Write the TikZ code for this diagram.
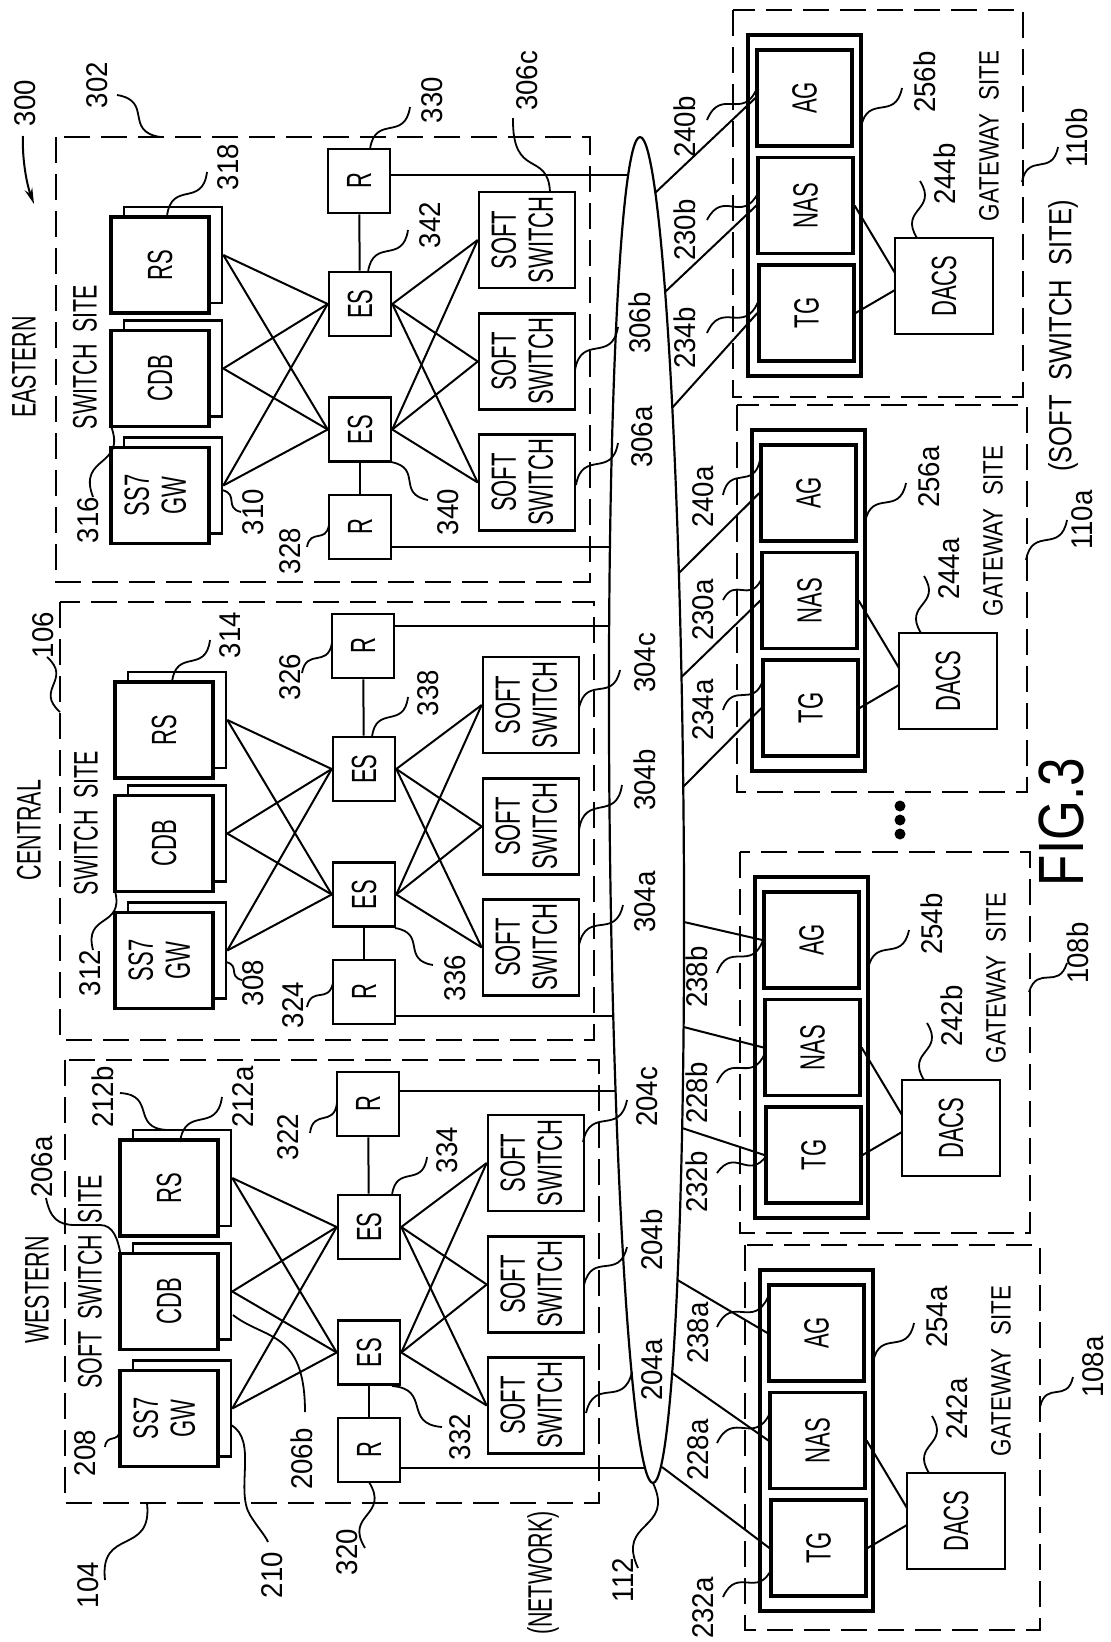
\documentclass[tikz,border=0pt]{standalone}
\usepackage{graphicx}
\usepackage{fontspec}
\setmainfont{Liberation Sans}[FakeStretch=0.92]
\newfontfamily\condA{Liberation Sans}[FakeStretch=0.63]
\newfontfamily\condB{Liberation Sans}[FakeStretch=0.8]
\usetikzlibrary{calc,arrows.meta}
\newcommand\rt[1]{\rotatebox{90}{#1}}
\newcommand\twol[2]{\begin{tabular}{@{}c@{}}#1\\#2\end{tabular}}
\tikzset{
  conn/.style={line width=2pt},
  ldr/.style={line width=1.8pt},
  bx/.style={draw, line width=2.6pt, fill=white, inner sep=0pt,
     font=\condA\fontsize{35}{37}\selectfont},
  fb/.style={bx, line width=3.4pt, minimum width=98pt, minimum height=96pt},
  bb/.style={draw, line width=2.6pt, fill=white, minimum width=98pt, minimum height=96pt},
  rbox/.style={bx, minimum width=62pt, minimum height=64pt},
  sbox/.style={bx, minimum width=96pt, minimum height=96pt},
  gbx/.style={bx, line width=3.2pt, minimum width=95pt, minimum height=96pt},
  dbox/.style={bx, minimum width=98pt, minimum height=96pt},
  obox/.style={draw, line width=3.2pt, minimum width=113pt, minimum height=341pt},
  sitebox/.style={line width=2.6pt, dash pattern=on 26pt off 11pt},
  lbl/.style={rotate=90, inner sep=0pt, font=\fontsize{30}{32}\selectfont},
  ttlA/.style={rotate=90, inner sep=0pt, font=\condA\fontsize{34}{36}\selectfont},
  ttlB/.style={rotate=90, inner sep=0pt, font=\condB\fontsize{28}{30}\selectfont},
}
\newcommand\lead[3]{\coordinate (#1s) at (#2); \coordinate (#1e) at (#3);
  \draw[ldr] (#1s) .. controls ($(#1s)!0.5!(#1e)!0.7!90:(#1e)$) and ($(#1s)!0.5!(#1e)!0.7!-90:(#1e)$) .. (#1e);}
\newcommand\site[4]{%
 \begin{scope}[shift={(#3,#2)}]
  \draw[sitebox] (56,0) rectangle (590,#4);
  \node[bb] (#1RSb) at (173,118) {};
  \node[fb] (#1RS) at (160,128) {\rt{RS}};
  \node[bb] (#1CDBb) at (173,231.5) {};
  \node[fb] (#1CDB) at (160,241.5) {\rt{CDB}};
  \node[bb] (#1GWb) at (173,348.5) {};
  \node[fb] (#1GW) at (160,358.5) {\rt{\twol{SS7}{GW}}};
  \node[rbox] (#1Rt) at (359,44) {\rt{R}};
  \node[rbox] (#1E1) at (360,167) {\rt{ES}};
  \node[rbox] (#1E2) at (360,292.5) {\rt{ES}};
  \node[rbox] (#1Rb) at (360,390) {\rt{R}};
  \node[sbox] (#1Sc) at (527,103) {\rt{\twol{SOFT}{SWITCH}}};
  \node[sbox] (#1Sb) at (527,224.5) {\rt{\twol{SOFT}{SWITCH}}};
  \node[sbox] (#1Sa) at (527,345.5) {\rt{\twol{SOFT}{SWITCH}}};
  \draw[conn] (#1Rt) -- (#1E1);
  \draw[conn] (#1E2) -- (#1Rb);
  \foreach \va in {RSb,CDBb,GWb}{\foreach \vb in {E1,E2}{\draw[conn] (#1\va.east) -- (#1\vb.west);}}
  \foreach \va in {E1,E2}{\foreach \vb in {Sa,Sb,Sc}{\draw[conn] (#1\va.east) -- (#1\vb.west);}}
 \end{scope}}
\newcommand\gw[7]{%
 \begin{scope}[shift={(#2,#3)}]
  \draw[sitebox] (0,0) rectangle (#4,#5);
  \node[obox] (#1OUT) at (71.5,195.5) {};
  \node[gbx] (#1AG) at (71.5,88) {\rt{AG}};
  \node[gbx] (#1NAS) at (72.5,195.5) {\rt{NAS}};
  \node[gbx] (#1TG) at (73.5,303) {\rt{TG}};
  \node[dbox] (#1DACS) at (211,276) {\rt{DACS}};
  \coordinate (#1d1) at (162,263);
  \coordinate (#1d2) at (162,280);
  \draw[conn] (#1NAS.east) -- (#1d1);
  \draw[conn] (#1TG.east) -- (#1d2);
  \node[ttlB] (#1T) at (256,126) {GATEWAY\ \ SITE};
  \node[lbl] (#1Lo) at (192,72) {#6};
  \lead{#1ko}{128,117}{169,78}
  \node[lbl] (#1Ld) at (212,164) {#7};
  \lead{#1kd}{184,228}{187,171}
 \end{scope}}
\begin{document}
\begin{tikzpicture}[x=1pt,y=-1pt]
\fill[white] (0,0) rectangle (1111,1642);
\useasboundingbox (0,0) rectangle (1111,1642);

% switch sites
\site{e}{137}{0}{445}
\site{c}{602}{4}{438}
\site{w}{1060}{9}{443}

% network ellipse
\draw[line width=2.2pt, rotate around={0.55:(646.5,810)}] (646.5,810) ellipse [x radius=37pt, y radius=673pt];

% routers to network
\coordinate (nE1) at (628,175);  \draw[conn] (eRt.east |- nE1) -- (nE1);
\coordinate (nE2) at (610,547);  \draw[conn] (eRb.east |- nE2) -- (nE2);
\coordinate (nC1) at (609,626);  \draw[conn] (cRt.east |- nC1) -- (nC1);
\coordinate (nC2) at (613,1016); \draw[conn] (cRb.east |- nC2) -- (nC2);
\coordinate (nW1) at (616,1091); \draw[conn] (wRt.east |- nW1) -- (nW1);
\coordinate (nW2) at (645,1468); \draw[conn] (wRb.east |- nW2) -- (nW2);

% gateway sites
\gw{gB}{733}{10}{290}{387}{256b}{244b}
\gw{gA}{737}{405}{290}{387}{256a}{244a}
\gw{hB}{740}{852}{290}{381}{254b}{242b}
\gw{hA}{745}{1245}{295}{385}{254a}{242a}

% network to gateways
\coordinate (gb1) at (655,193);   \draw[conn] (gb1) -- (gBAG.west);
\coordinate (gb2) at (665,292);   \draw[conn] (gb2) -- (gBNAS.west);
\coordinate (gb3) at (672,408);   \draw[conn] (gb3) -- (gBTG.west);
\coordinate (ga1) at (679,573);   \draw[conn] (ga1) -- (gAAG.west);
\coordinate (ga2) at (681.5,677); \draw[conn] (ga2) -- (gANAS.west);
\coordinate (ga3) at (683,787);   \draw[conn] (ga3) -- (gATG.west);
\coordinate (hb1) at (684,922);   \draw[conn] (hb1) -- (hBAG.west);
\coordinate (hb2) at (683.6,1027);\draw[conn] (hb2) -- (hBNAS.west);
\coordinate (hb3) at (682,1128);  \draw[conn] (hb3) -- (hBTG.west);
\coordinate (ha1) at (677.5,1280);\draw[conn] (ha1) -- (hAAG.west);
\coordinate (ha2) at (672,1373);  \draw[conn] (ha2) -- (hANAS.west);
\coordinate (ha3) at (662,1467);  \draw[conn] (ha3) -- (hATG.west);

% gateway link labels
\node[lbl] (l240b) at (685,127) {240b}; \lead{k240b}{707,120}{757,88}
\node[lbl] (l230b) at (685,230) {230b}; \lead{k230b}{707,220}{758,193}
\node[lbl] (l234b) at (685,338) {234b}; \lead{k234b}{707,333}{758,302}
\node[lbl] (l240a) at (703,497) {240a}; \lead{k240a}{723,495}{760,460}
\node[lbl] (l230a) at (703,610) {230a}; \lead{k230a}{723,600}{761,580}
\node[lbl] (l234a) at (703,710) {234a}; \lead{k234a}{723,710}{763,680}
\node[lbl] (l238b) at (697,977) {238b}; \lead{k238b}{717,973}{763,940}
\node[lbl] (l228b) at (697,1093) {228b}; \lead{k228b}{717,1083}{765,1053}
\node[lbl] (l232b) at (697,1182) {232b}; \lead{k232b}{717,1173}{767,1155}
\node[lbl] (l238a) at (698,1333) {238a}; \lead{k238a}{717,1327}{768,1297}
\node[lbl] (l228a) at (698,1450) {228a}; \lead{k228a}{717,1443}{770,1413}
\node[lbl] (l232a) at (703,1608) {232a}; \lead{k232a}{723,1597}{772,1568}

% gateway site labels
\node[lbl] (l110b) at (1077,138) {110b}; \lead{k110b}{1022,182}{1058,147}
\node[lbl] (l110a) at (1082,520) {110a}; \lead{k110a}{1026,560}{1067,520}
\node[lbl] (l108b) at (1078,953) {108b}; \lead{k108b}{1029,992}{1067,963}
\node[lbl] (l108a) at (1093,1367) {108a}; \lead{k108a}{1040,1407}{1073,1377}
\node[rotate=90, inner sep=0pt, font=\condB\fontsize{32}{34}\selectfont] (tSS) at (1063,336) {(SOFT\ \ SWITCH\ \ SITE)};
\fill (900,806) circle (5.5pt);
\fill (900,820) circle (5.5pt);
\fill (900,834) circle (5.5pt);
\node[rotate=90, inner sep=0pt, font=\condB\fontsize{64}{66}\selectfont] (fig) at (1061,822) {FIG.3};

% eastern labels
\node[lbl] (l300) at (25,103) {300};
\coordinate (a300s) at (23,136); \coordinate (a300e) at (34,204);
\draw[line width=2pt,-{Stealth[length=16pt,width=8pt]}] (a300s) .. controls (22,160) and (27,185) .. (a300e);
\node[lbl] (l302) at (97,85) {302}; \lead{k302}{117,95}{160,137}
\node[ttlA] (tE1) at (24,367) {EASTERN};
\node[ttlA] (tE2) at (85,357) {SWITCH\ \ SITE};
\node[lbl] (l318) at (228,167) {318}; \lead{k318}{207,172}{167,216}
\node[lbl] (l316) at (88,520) {316}; \lead{k316}{93,497}{111,426}
\node[lbl] (l310) at (253,512) {310}; \lead{k310}{222,490}{241,512}
\node[lbl] (l328) at (290,551) {328}; \lead{k328}{307,547}{329,525}
\node[lbl] (l330) at (432,100) {330}; \lead{k330}{370,149}{410,107}
\node[lbl] (l342) at (430,225) {342}; \lead{k342}{368,272}{408,230}
\node[lbl] (l340) at (448,512) {340}; \lead{k340}{391,462}{428,500}
\node[lbl] (l306c) at (527,81) {306c};
\coordinate (k306cs) at (550,192); \coordinate (k306ce) at (513,118);
\draw[ldr] (k306cs) .. controls (548,150) and (512,180) .. (k306ce);
\node[lbl] (l306b) at (640,323) {306b}; \lead{k306b}{575,370}{618,327}
\node[lbl] (l306a) at (642,437) {306a}; \lead{k306a}{576,485}{618,443}

% central labels
\node[lbl] (l106) at (43,635) {106}; \lead{k106}{47,657}{60,712}
\node[ttlA] (tC1) at (29,830) {CENTRAL};
\node[ttlA] (tC2) at (86,823) {SWITCH\ \ SITE};
\node[lbl] (l314) at (230,635) {314}; \lead{k314}{210,640}{172,682}
\node[lbl] (l312) at (90,973) {312}; \lead{k312}{93,950}{115,891}
\node[lbl] (l308) at (253,983) {308}; \lead{k308}{226,962}{242,980}
\node[lbl] (l326) at (290,677) {326}; \lead{k326}{302,673}{332,643}
\node[lbl] (l324) at (293,1005) {324}; \lead{k324}{307,1007}{333,983}
\node[lbl] (l338) at (428,693) {338}; \lead{k338}{372,737}{408,697}
\node[lbl] (l336) at (455,978) {336}; \lead{k336}{395,928}{433,965}
\node[lbl] (l304c) at (645,663) {304c}; \lead{k304c}{579,708}{620,670}
\node[lbl] (l304b) at (645,780) {304b}; \lead{k304b}{579,830}{622,785}
\node[lbl] (l304a) at (645,902) {304a}; \lead{k304a}{579,945}{623,905}

% western labels
\node[ttlA] (tW1) at (37,1290) {WESTERN};
\node[ttlA] (tW2) at (90,1282) {SOFT\ \ SWITCH\ \ SITE};
\node[lbl] (l212b) at (103,1097) {212b}; \lead{k212b}{120,1093}{167,1130}
\node[lbl] (l212a) at (243,1097) {212a}; \lead{k212a}{222,1097}{180,1142}
\node[lbl] (l206a) at (42,1167) {206a};
\coordinate (k206as) at (46,1198); \coordinate (k206ae) at (121,1257);
\draw[ldr] (k206as) .. controls (50,1218) and (58,1225) .. (75,1225) -- (100,1225) .. controls (113,1225) and (118,1238) .. (k206ae);
\node[lbl] (l206b) at (302,1459) {206b};
\coordinate (k206bs) at (233,1315); \coordinate (k206be) at (305,1412);
\draw[ldr] (k206bs) .. controls (265,1340) and (305,1330) .. (k206be);
\node[lbl] (l208) at (85,1453) {208}; \lead{k208}{105,1447}{120,1430}
\node[lbl] (l210) at (272,1575) {210};
\coordinate (k210s) at (231,1425); \coordinate (k210e) at (268,1542);
\draw[ldr] (k210s) .. controls (258,1440) and (235,1490) .. (250,1515) .. controls (258,1528) and (265,1535) .. (k210e);
\node[lbl] (l104) at (88,1585) {104}; \lead{k104}{105,1580}{147,1503}
\node[lbl] (l322) at (288,1137) {322}; \lead{k322}{310,1133}{337,1103}
\node[lbl] (l320) at (347,1552) {320}; \lead{k320}{365,1548}{369,1482}
\node[lbl] (l334) at (447,1150) {334}; \lead{k334}{392,1195}{427,1157}
\node[lbl] (l332) at (460,1437) {332}; \lead{k332}{392,1386}{442,1427}
\node[lbl] (l204c) at (647,1097) {204c}; \lead{k204c}{583,1142}{627,1100}
\node[lbl] (l204b) at (652,1240) {204b}; \lead{k204b}{584,1285}{627,1247}
\node[lbl] (l204a) at (652,1370) {204a}; \lead{k204a}{586,1413}{632,1372}
\node[ttlA] (tN) at (543,1573) {(NETWORK)};
\node[lbl] (l112) at (623,1580) {112}; \lead{k112}{638,1568}{653,1483}
\end{tikzpicture}
\end{document}
